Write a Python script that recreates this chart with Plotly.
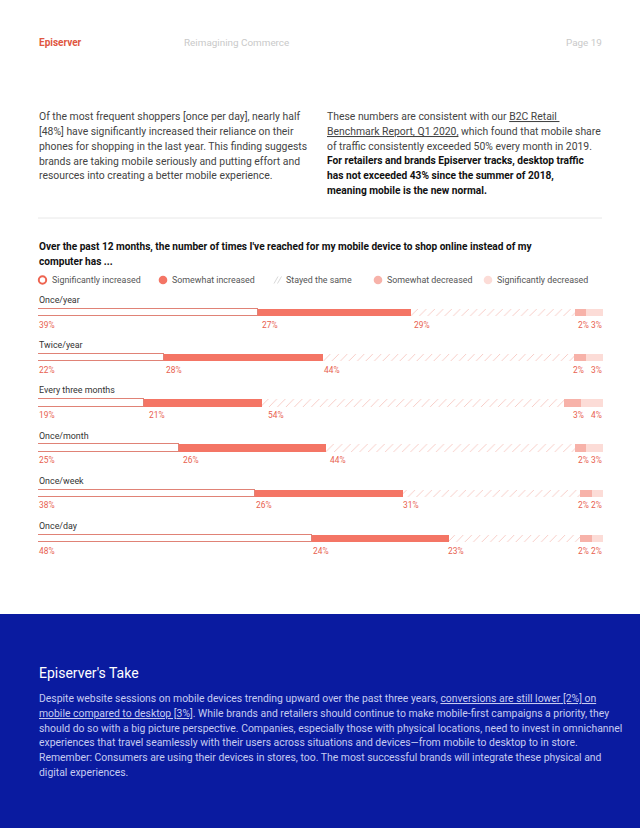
import plotly.graph_objects as go

W, H = 640, 828

categories = ["Once/year", "Twice/year", "Every three months", "Once/month", "Once/week", "Once/day"]
series_names = ["Significantly increased", "Somewhat increased", "Stayed the same",
                "Somewhat decreased", "Significantly decreased"]
sig_inc = [39, 22, 19, 25, 38, 48]
some_inc = [27, 28, 21, 26, 26, 24]
same = [29, 44, 54, 44, 31, 23]
some_dec = [2, 2, 3, 2, 2, 2]
sig_dec = [3, 3, 4, 3, 2, 2]
series = [sig_inc, some_inc, same, some_dec, sig_dec]

CORAL = "#f47565"
LABEL = "#e8604e"
FONT = "Roboto"

def px(x):
    return x / W

def py(y):
    return 1 - y / H

fig = go.Figure()

rows = list(range(len(categories)))
BW = 0.16

fig.add_trace(go.Bar(y=rows, x=sig_inc, orientation="h", width=BW, name=series_names[0],
                     marker=dict(color="white", line=dict(color="#e08276", width=1)),
                     showlegend=False, hoverinfo="skip"))
fig.add_trace(go.Bar(y=rows, x=some_inc, orientation="h", width=BW, name=series_names[1],
                     marker=dict(color=CORAL, line=dict(width=0)),
                     showlegend=False, hoverinfo="skip"))
fig.add_trace(go.Bar(y=rows, x=same, orientation="h", width=BW, name=series_names[2],
                     marker=dict(color="white", line=dict(width=0),
                                 pattern=dict(shape="/", fgcolor="#f5bfb7", bgcolor="white",
                                              size=6, solidity=0.13, fillmode="replace")),
                     showlegend=False, hoverinfo="skip"))
fig.add_trace(go.Bar(y=rows, x=some_dec, orientation="h", width=BW, name=series_names[3],
                     marker=dict(color="#f7b2a9", line=dict(width=0)),
                     showlegend=False, hoverinfo="skip"))
fig.add_trace(go.Bar(y=rows, x=sig_dec, orientation="h", width=BW, name=series_names[4],
                     marker=dict(color="#fcdcd7", line=dict(width=0)),
                     showlegend=False, hoverinfo="skip"))

top_px, bot_px = 290, 560
row_sp = 45.2
r0 = -(312.5 - top_px) / row_sp
r1 = r0 + (bot_px - top_px) / row_sp

annotations = []

def T(text, x, y, size, color, bold=False, anchor="left", family=FONT):
    if bold:
        text = "<b>" + text + "</b>"
    xs = -1.5 if anchor == "left" else 1.5
    annotations.append(dict(text=text, x=px(x), y=py(y), xref="paper", yref="paper",
                            xanchor=anchor, yanchor="middle", showarrow=False, xshift=xs,
                            font=dict(size=size, color=color, family=family)))

# Header
T("Episerver", 38, 42, 10, "#e0563f", bold=True)
T("Reimagining Commerce", 183, 42, 9.9, "#c9c9c9")
T("Page 19", 602, 42, 9.9, "#c9c9c9", anchor="right")

left_lines = [
    "Of the most frequent shoppers [once per day], nearly half",
    "[48%] have significantly increased their reliance on their",
    "phones for shopping in the last year. This finding suggests",
    "brands are taking mobile seriously and putting effort and",
    "resources into creating a better mobile experience.",
]
for i, l in enumerate(left_lines):
    T(l, 38, 117 + i * 14.7, 10.4, "#444444")

right_lines = [
    ("These numbers are consistent with our <u>B2C Retail </u>", False),
    ("<u>Benchmark Report, Q1 2020,</u> which found that mobile share", False),
    ("of traffic consistently exceeded 50% every month in 2019.", False),
    ("For retailers and brands Episerver tracks, desktop traffic", True),
    ("has not exceeded 43% since the summer of 2018,", True),
    ("meaning mobile is the new normal.", True),
]
for i, (l, b) in enumerate(right_lines):
    T(l, 326, 117 + i * 14.7, 10.2 if b else 10.4, "#111111" if b else "#444444", bold=b)

T("Over the past 12 months, the number of times I've reached for my mobile device to shop online instead of my",
  38, 247, 10.1, "#111111", bold=True)
T("computer has ...", 38, 261, 10.1, "#111111", bold=True)

leg_x = [51, 171, 285, 386, 496]
for name, lx in zip(series_names, leg_x):
    T(name, lx, 280, 8.9, "#555555")

shapes = []
shapes.append(dict(type="line", xref="paper", yref="paper", x0=px(38), x1=px(602),
                   y0=py(218), y1=py(218), line=dict(color="#e8e8e8", width=1)))

def circ(cx, cy, r, fill, line_color, lw):
    shapes.append(dict(type="circle", xref="paper", yref="paper", xsizemode="pixel", ysizemode="pixel",
                       xanchor=px(cx), yanchor=py(cy), x0=-r, x1=r, y0=-r, y1=r,
                       fillcolor=fill, line=dict(color=line_color, width=lw)))

circ(42.5, 280, 3.7, "white", "#ee6450", 2)
circ(163, 280, 4.3, CORAL, CORAL, 0)
for dx in (0, 3.5):
    shapes.append(dict(type="line", xref="paper", yref="paper", xsizemode="pixel", ysizemode="pixel",
                       xanchor=px(274 + dx), yanchor=py(280), x0=0, x1=4, y0=-3.5, y1=3.5,
                       line=dict(color="#d9d9d9", width=1)))
circ(378, 280, 4.3, "#f7b2a9", "#f7b2a9", 0)
circ(488, 280, 4.3, "#fcdcd7", "#fcdcd7", 0)

for i, cat in enumerate(categories):
    annotations.append(dict(text=cat, x=0, y=i, xref="x", yref="y", xanchor="left", yanchor="middle",
                            yshift=12.5, xshift=-1.5, showarrow=False,
                            font=dict(size=8.9, color="#333333", family=FONT)))
    vals = [s[i] for s in series]
    cum = 0
    for j, v in enumerate(vals):
        start = cum
        cum += v
        if j == len(vals) - 1:
            annotations.append(dict(text=f"{v}%", x=100, y=i, xref="x", yref="y", xanchor="right",
                                    yanchor="middle", yshift=-12, xshift=1, showarrow=False,
                                    font=dict(size=8.4, color=LABEL, family=FONT)))
        else:
            annotations.append(dict(text=f"{v}%", x=start, y=i, xref="x", yref="y", xanchor="left",
                                    yanchor="middle", yshift=-12, xshift=-1.5 if j == 0 else 1.5,
                                    showarrow=False, font=dict(size=8.4, color=LABEL, family=FONT)))

shapes.append(dict(type="rect", xref="paper", yref="paper", x0=0, x1=1, y0=0, y1=py(614),
                   fillcolor="#0a1ba0", line=dict(width=0), layer="below"))
T("Episerver's Take", 38, 673, 14, "#ffffff")
take_lines = [
    "Despite website sessions on mobile devices trending upward over the past three years, <u>conversions are still lower [2%] on</u>",
    "<u>mobile compared to desktop [3%]</u>. While brands and retailers should continue to make mobile-first campaigns a priority, they",
    "should do so with a big picture perspective. Companies, especially those with physical locations, need to invest in omnichannel",
    "experiences that travel seamlessly with their users across situations and devices\u2014from mobile to desktop to in store.",
    "Remember: Consumers are using their devices in stores, too. The most successful brands will integrate these physical and",
    "digital experiences.",
]
for i, l in enumerate(take_lines):
    T(l, 38, 698.5 + i * 14.75, 10.4, "#c6cbf0")

fig.update_layout(
    width=W, height=H,
    margin=dict(l=0, r=0, t=0, b=0),
    paper_bgcolor="white", plot_bgcolor="rgba(0,0,0,0)",
    barmode="stack", barnorm="percent", bargap=0,
    xaxis=dict(domain=[px(38), px(603)], range=[0, 100], visible=False, fixedrange=True),
    yaxis=dict(domain=[py(bot_px), py(top_px)], range=[r1, r0], visible=False, fixedrange=True),
    annotations=annotations, shapes=shapes,
    font=dict(family=FONT),
    showlegend=False,
    hovermode=False,
)

fig.write_html("out.html", config={"displayModeBar": False},
               post_script="document.body.style.margin='0';document.body.style.overflow='hidden';")
